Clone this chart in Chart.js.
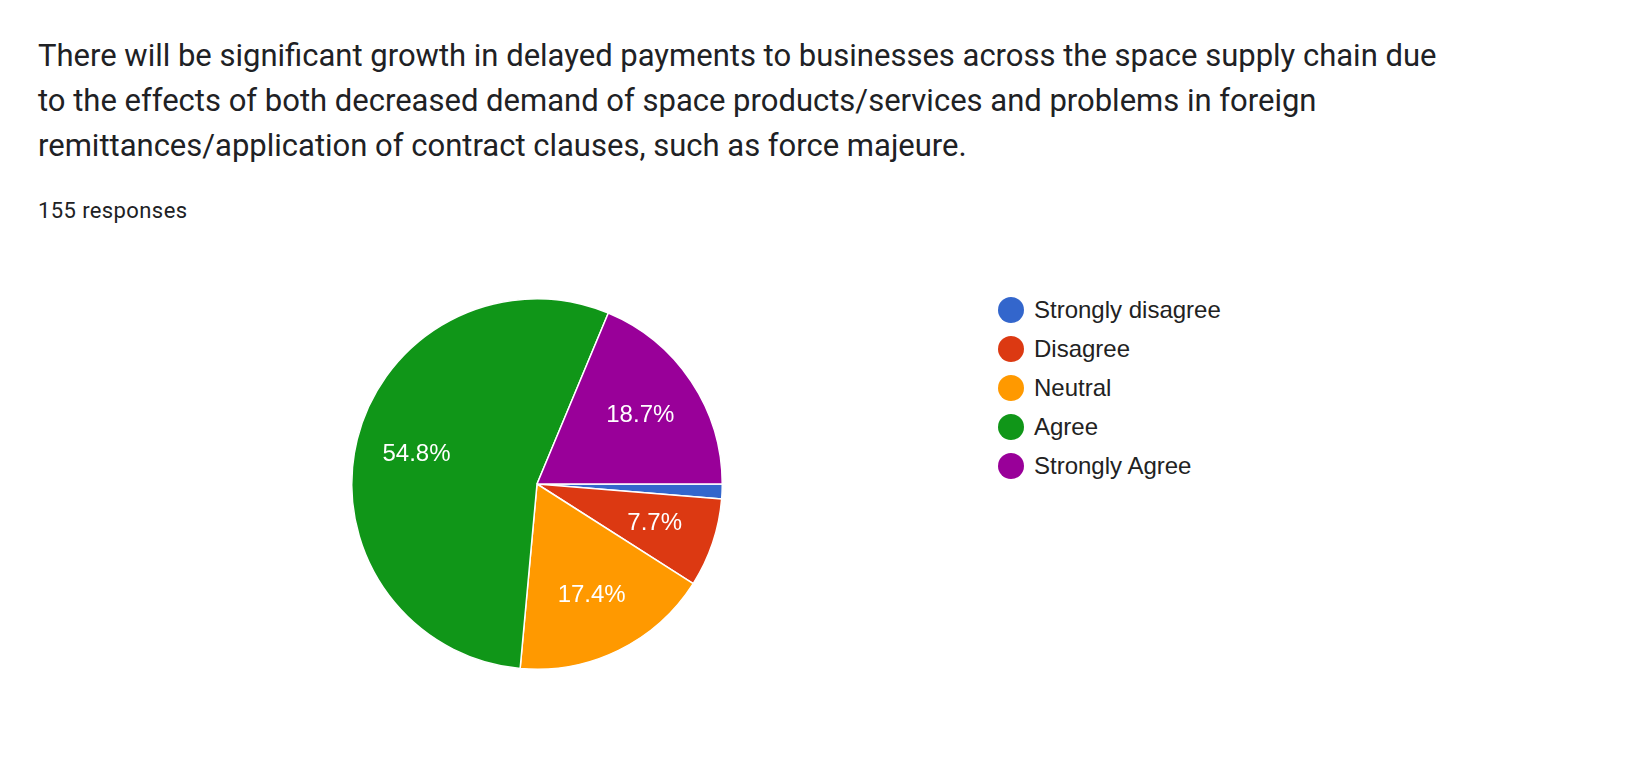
<!DOCTYPE html>
<html><head><meta charset="utf-8">
<script src="https://cdn.jsdelivr.net/npm/chart.js@4/dist/chart.umd.min.js"></script>
<style>
body{margin:0;background:#fff;width:1652px;height:776px;overflow:hidden;position:relative;font-family:Roboto,"Open Sans",sans-serif;}
#title{position:absolute;left:38px;top:33px;font-size:31px;line-height:45px;color:#202124;width:1420px;}
#resp{position:absolute;left:38px;top:198px;font-size:22px;color:#202124;letter-spacing:0.4px;}
#pie{position:absolute;left:341px;top:288px;width:392px;height:392px;}
#legend{position:absolute;left:998px;top:297px;font-family:"Liberation Sans",Arial,sans-serif;font-size:24px;color:#222;}
.row{height:39px;display:flex;align-items:flex-start;}
.dot{width:26px;height:26px;border-radius:50%;margin-right:10px;}
</style></head><body>
<div id="title">There will be significant growth in delayed payments to businesses across the space supply chain due to the effects of both decreased demand of space products/services and problems in foreign remittances/application of contract clauses, such as force majeure.</div>
<div id="resp">155 responses</div>
<div id="pie"><canvas id="c" width="392" height="392"></canvas></div>
<div id="legend"></div>
<script>
const categories=["Strongly disagree","Disagree","Neutral","Agree","Strongly Agree"];
const counts=[2,12,27,85,29];
const colors=["#3366cc","#dc3912","#ff9900","#109618","#990099"];
const lg=document.getElementById('legend');
categories.forEach((c,i)=>{const r=document.createElement('div');r.className='row';r.innerHTML='<div class="dot" style="background:'+colors[i]+'"></div><div style="line-height:26px">'+c+'</div>';lg.appendChild(r);});
const total=counts.reduce((a,b)=>a+b,0);
const labelPlugin={id:'lbl',afterDatasetsDraw(chart){const ctx=chart.ctx;const meta=chart.getDatasetMeta(0);ctx.save();ctx.fillStyle='#fff';ctx.font='24px "Liberation Sans", Arial, sans-serif';ctx.textAlign='center';ctx.textBaseline='middle';
meta.data.forEach((arc,i)=>{const pct=counts[i]/total*100;if(pct<5)return;const a=(arc.startAngle+arc.endAngle)/2;const r=arc.outerRadius*0.67;ctx.fillText(pct.toFixed(1)+'%',arc.x+Math.cos(a)*r,arc.y+Math.sin(a)*r);});ctx.restore();}};
new Chart(document.getElementById('c'),{type:'pie',data:{labels:categories,datasets:[{data:counts,backgroundColor:colors,borderColor:'#fff',borderWidth:1.5}]},
options:{responsive:false,animation:false,rotation:90,layout:{padding:10},plugins:{legend:{display:false},tooltip:{enabled:false}}},plugins:[labelPlugin]});
</script></body></html>
